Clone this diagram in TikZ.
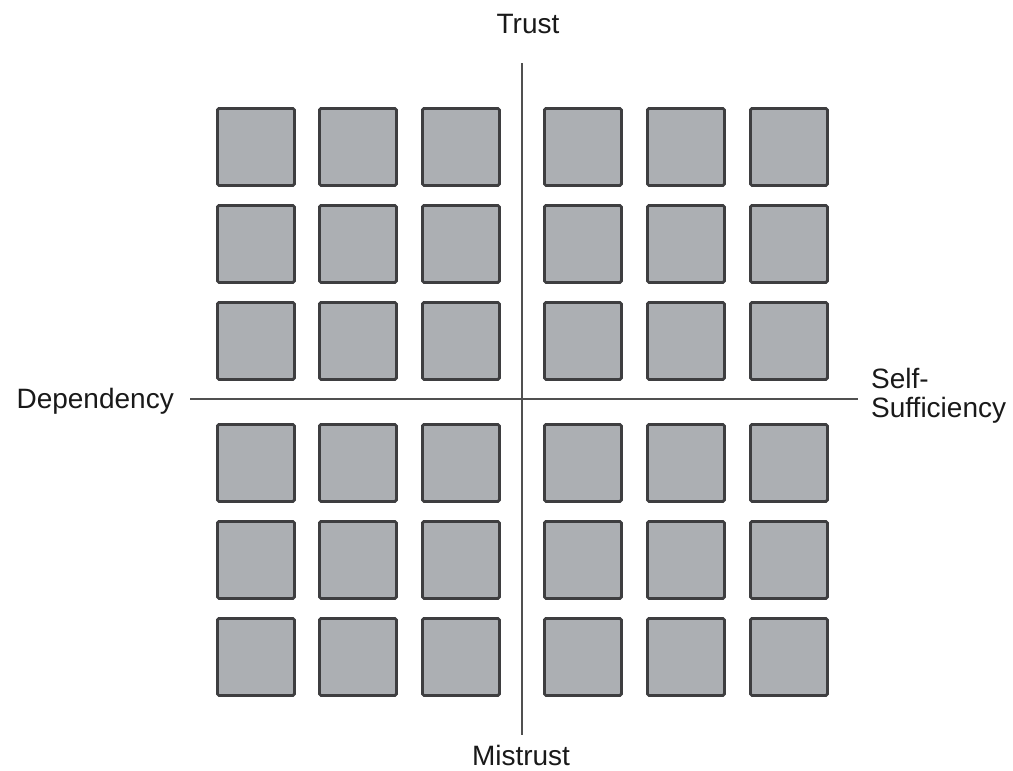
\documentclass[tikz,border=0pt]{standalone}
\usepackage{fontspec}
\setmainfont{Liberation Sans}
\definecolor{boxfill}{RGB}{172,175,179}
\definecolor{boxline}{RGB}{62,62,64}
\definecolor{axisline}{RGB}{80,80,80}
\definecolor{txt}{RGB}{25,25,25}
\begin{document}
\begin{tikzpicture}[x=1pt,y=-1pt,
  cell/.style={draw=boxline,fill=boxfill,line width=2.8pt,rounded corners=1.5pt,minimum width=77pt,minimum height=77pt,inner sep=0pt,anchor=north west},
  axis/.style={draw=axisline,line width=1.8pt},
  lab/.style={text=txt,font=\fontsize{28}{28.5}\selectfont,inner sep=0pt}]
\useasboundingbox (0,0) rectangle (1013,771);
\foreach \c/\x in {1/216,2/318,3/421,4/543,5/646,6/749}{
  \foreach \r/\y in {1/107,2/204,3/301,4/423,5/520,6/617}{
    \node[cell] (s\r\c) at (\x,\y) {};
  }
}
\coordinate (vt) at (522,63);
\coordinate (vb) at (522,735);
\coordinate (hl) at (190,399);
\coordinate (hr) at (858,399);
\draw[axis] (vt) -- (vb);
\draw[axis] (hl) -- (hr);
\node[lab] (trust) at (528,24) {Trust};
\node[lab] (mistrust) at (521,755) {Mistrust};
\node[lab,anchor=east] (dep) at (174,401) {Dependency};
\node[lab,anchor=west,align=left] (self) at (871,396) {Self-\\Sufficiency};
\end{tikzpicture}
\end{document}
